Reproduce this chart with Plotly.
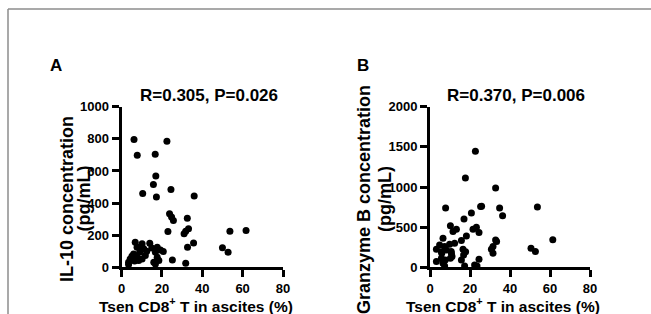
import plotly.graph_objects as go

# ---- data ----
il10_x = [6.2, 7.8, 22.5, 16.7, 10.5, 17, 15.8, 17.3, 24.5, 36, 23.8, 24.8, 25.7, 32.6, 23,
          31, 31.8, 33.2, 35.7, 32.7, 25.2, 31.8, 53.7, 61.7, 50, 52.8, 6.8, 10.2, 14, 7.7,
          11, 17.7, 19.3, 20.7, 16.8, 9, 6, 5.2, 4.3, 3.5, 7.7, 10.2, 11.8, 8.5, 17.7, 18.5,
          16, 3.5, 16.8, 12.5, 15, 6.5, 9.5]
il10_y = [796, 698, 785, 704, 459, 569, 515, 437, 485, 444, 334, 313, 292, 306, 223,
          209, 225, 240, 152, 125, 46, 25, 225, 229, 121, 94, 156, 146, 150, 125,
          115, 125, 108, 98, 94, 94, 83, 69, 52, 31, 63, 52, 73, 42, 63, 42,
          31, 17, 21, 100, 120, 40, 130]

gzmb_x = [22.7, 17.7, 32.8, 7.8, 25.3, 34.8, 36.3, 53.7, 61.4, 50.5, 52.7, 20.7, 17, 10.2,
          13.2, 11.5, 23.2, 21.5, 24.5, 18.2, 15.7, 6.5, 4.8, 7.3, 9.8, 12.3, 3.2, 5.7, 8.2,
          10.7, 16.5, 17.8, 16.8, 32.8, 31.5, 30.7, 31.5, 5.7, 10.2, 3.2, 15.7, 24.5, 6.5,
          7.3, 22.3, 23.5, 17.3, 33.3, 10.6, 11, 5.9, 7.6, 25.8]
gzmb_y = [1446, 1112, 988, 737, 758, 737, 641, 750, 342, 237, 196, 675, 600, 516,
          475, 445, 500, 475, 433, 391, 333, 362, 279, 258, 287, 300, 225, 195, 216,
          175, 225, 195, 154, 341, 258, 225, 175, 112, 112, 71, 92, 100, 50,
          16, 29, 16, 16, 320, 196, 133, 175, 92, 760]

x_ticks = [0, 20, 40, 60, 80]
il10_ticks = [0, 200, 400, 600, 800, 1000]
gzmb_ticks = [0, 500, 1000, 1500, 2000]

titles = ["R=0.305, P=0.026", "R=0.370, P=0.006"]
panel_labels = ["A", "B"]
y_titles = [("IL-10 concentration", "(pg/mL)"), ("Granzyme B concentration", "(pg/mL)")]
x_title = "Tsen CD8<sup>+</sup> T in ascites (%)"

W, H = 651, 314
FONT = "Liberation Sans, Arial, sans-serif"


def px(x):
    return x / W


def py(y):
    return 1 - y / H


fig = go.Figure()
fig.add_trace(go.Scatter(x=il10_x, y=il10_y, mode="markers", xaxis="x", yaxis="y",
                         marker=dict(color="black", size=7), cliponaxis=False, showlegend=False,
                         hoverinfo="skip"))
fig.add_trace(go.Scatter(x=gzmb_x, y=gzmb_y, mode="markers", xaxis="x2", yaxis="y2",
                         marker=dict(color="black", size=7), cliponaxis=False, showlegend=False,
                         hoverinfo="skip"))

ax_common = dict(showline=True, linewidth=3, linecolor="black", ticks="outside", ticklen=7,
                 tickwidth=3, tickcolor="black", showgrid=False, zeroline=False, automargin=False,
                 tickfont=dict(family=FONT, size=13, color="black", weight="bold"))

ydom = [py(267.3), py(106.7)]
fig.update_layout(
    template="none",
    width=W, height=H, autosize=False, margin=dict(l=0, r=0, t=0, b=0, pad=0),
    paper_bgcolor="white", plot_bgcolor="white",
    xaxis=dict(domain=[px(121.5), px(283)], range=[0, 80], tickvals=x_ticks, anchor="y", **ax_common),
    yaxis=dict(domain=ydom, range=[0, 1000], tickvals=il10_ticks, anchor="x", **ax_common),
    xaxis2=dict(domain=[px(430), px(590)], range=[0, 80], tickvals=x_ticks, anchor="y2", **ax_common),
    yaxis2=dict(domain=ydom, range=[0, 2000], tickvals=gzmb_ticks, anchor="x2", **ax_common),
)

ann = []
# panel letters
for lab, x in zip(panel_labels, [56, 363]):
    ann.append(dict(text=lab, x=px(x), y=py(65.5), xref="paper", yref="paper", showarrow=False,
                    xanchor="center", yanchor="middle",
                    font=dict(family=FONT, size=17, color="black", weight="bold")))
# R/P titles
for t, x in zip(titles, [209, 515.5]):
    ann.append(dict(text=t, x=px(x), y=py(96), xref="paper", yref="paper", showarrow=False,
                    xanchor="center", yanchor="middle",
                    font=dict(family=FONT, size=17, color="black", weight="bold")))
# y titles
for (l1, l2), (x1, x2) in zip(y_titles, [(67, 83.5), (364, 385)]):
    for t, x in [(l1, x1), (l2, x2)]:
        ann.append(dict(text=t, x=px(x), y=py(199), xref="paper", yref="paper", showarrow=False,
                        xanchor="center", yanchor="middle", textangle=-90,
                        font=dict(family=FONT, size=18, color="black", weight="bold")))
# x titles
for x in [196, 503]:
    ann.append(dict(text=x_title, x=px(x), y=py(304.5), xref="paper", yref="paper", showarrow=False,
                    xanchor="center", yanchor="middle",
                    font=dict(family=FONT, size=15.5, color="black", weight="bold")))
fig.update_layout(annotations=ann)

# outer frame lines (top and left)
fig.add_shape(type="line", xref="paper", yref="paper", x0=px(8), x1=1, y0=py(9), y1=py(9),
              line=dict(color="#8c8c8c", width=1.5))
fig.add_shape(type="line", xref="paper", yref="paper", x0=px(8), x1=px(8), y0=py(9), y1=0,
              line=dict(color="#8c8c8c", width=1.5))

fig.write_html("out.html", config={"displayModeBar": False, "responsive": False},
               post_script="document.body.style.margin='0';document.body.style.overflow='hidden';")
